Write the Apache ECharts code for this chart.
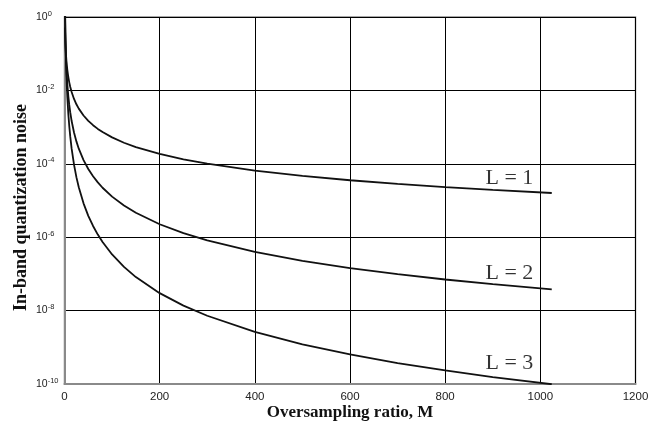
<!DOCTYPE html>
<html>
<head>
<meta charset="utf-8">
<script src="https://cdn.jsdelivr.net/npm/echarts@6/dist/echarts.min.js"></script>
<style>html,body{margin:0;padding:0;background:#fff}#c{width:650px;height:426px}</style>
</head>
<body>
<div id="c"></div>
<script>
const ratioM = [1,2,3,4,5,6,8,10,12,15,20,25,30,40,50,60,70,80,100,125,150,200,250,300,400,500,600,700,800,900,1024];
const noiseL1 = [0.52,0.185,0.1008,0.0654,0.0468,0.0356,0.02314,0.01656,0.0126,0.00901,0.005854,0.004189,0.003187,0.00207,0.001481,0.001127,0.000894,0.000732,0.000524,0.0003747,0.000285,0.0001851,0.0001325,0.0001008,6.54e-5,4.68e-5,3.56e-5,2.83e-5,2.31e-5,1.94e-5,1.60e-5];
const noiseL2 = [1.274,0.2252,0.08174,0.03982,0.02279,0.01445,0.007038,0.004029,0.002554,0.001462,0.0007123,0.0004077,0.0002585,0.0001259,7.207e-5,4.570e-5,3.108e-5,2.226e-5,1.2742e-5,7.294e-6,4.624e-6,2.253e-6,1.2895e-6,8.176e-7,3.982e-7,2.279e-7,1.445e-7,9.83e-8,7.04e-8,5.244e-8,3.798e-8];
const noiseL3 = [3.38,0.2990,0.07234,0.02643,0.01210,0.006394,0.002336,0.0010698,0.0005651,0.0002588,9.456e-5,4.330e-5,2.288e-5,8.358e-6,3.827e-6,2.022e-6,1.179e-6,7.387e-7,3.383e-7,1.549e-7,8.184e-8,2.991e-8,1.369e-8,7.236e-9,2.643e-9,1.210e-9,6.394e-10,3.728e-10,2.336e-10,1.547e-10,9.85e-11];
const curveNames = ['L = 1','L = 2','L = 3'];
const labelM = [935, 935, 935];
const labelV = [4.1e-5, 1.05e-7, 3.8e-10];
const xTicks = [0,200,400,600,800,1000,1200];
const yExponents = [0,-2,-4,-6,-8,-10];

const pairs = arr => ratioM.map((m,i)=>[m, arr[i]]);
const curves = [noiseL1, noiseL2, noiseL3];

const series = curves.map((arr,i)=>({
  type:'line', name:curveNames[i], data:pairs(arr), showSymbol:false, clip:true,
  smooth:false,
  lineStyle:{color:'#111', width:1.8}, silent:true
}));
series.push({
  type:'scatter', silent:true, symbolSize:0,
  data: curveNames.map((n,i)=>({value:[labelM[i], labelV[i]], name:n})),
  label:{show:true, position:'inside', formatter:p=>p.name,
    fontFamily:'Liberation Serif, Times New Roman, serif', fontSize:22, color:'#000'}
});

const chart = echarts.init(document.getElementById('c'), null, {renderer:'canvas'});
chart.setOption({
  animation:false,
  backgroundColor:'#fff',
  grid:{left:64.5, right:14.5, top:17, bottom:42, outerBoundsMode:'none', containLabel:false,
    show:true, borderColor:'#8a8a8a', borderWidth:1.5},
  xAxis:{
    type:'value', min:xTicks[0], max:xTicks[xTicks.length-1], interval:200,
    name:'Oversampling ratio, M', nameLocation:'middle', nameGap:20, nameMoveOverlap:false,
    nameTextStyle:{fontFamily:'Liberation Serif, Times New Roman, serif', fontWeight:'bold', fontSize:17, color:'#111'},
    axisLine:{show:true, lineStyle:{color:'#8a8a8a', width:2}},
    axisTick:{show:false},
    axisLabel:{fontFamily:'Liberation Sans, Arial, sans-serif', fontSize:11.5, color:'#222', margin:7,
      formatter:v=>xTicks.includes(v) ? String(v) : ''},
    splitLine:{show:true, lineStyle:{color:'#000', width:1}}
  },
  yAxis:{
    type:'log', logBase:10, min:1e-10, max:1, interval:2,
    name:'In-band quantization noise', nameLocation:'middle', nameGap:34.5, nameRotate:90, nameMoveOverlap:false,
    nameTextStyle:{fontFamily:'Liberation Serif, Times New Roman, serif', fontWeight:'bold', fontSize:18, color:'#111', padding:[0,14,0,0]},
    axisLine:{show:true, lineStyle:{color:'#8a8a8a', width:2}},
    axisTick:{show:false},
    axisLabel:{
      margin:28.5, align:'left',
      formatter:v=>{
        const e = Math.round(Math.log10(v));
        return yExponents.includes(e) ? '{b|10}{s|' + e + '}' : '';
      },
      rich:{
        b:{fontFamily:'Liberation Sans, Arial, sans-serif', fontSize:10.5, color:'#222'},
        s:{fontFamily:'Liberation Sans, Arial, sans-serif', fontSize:7.5, color:'#222', verticalAlign:'top', padding:[0,0,7,0]}
      }
    },
    splitLine:{show:true, lineStyle:{color:'#000', width:1}}
  },
  series:series
});
</script>
</body>
</html>
